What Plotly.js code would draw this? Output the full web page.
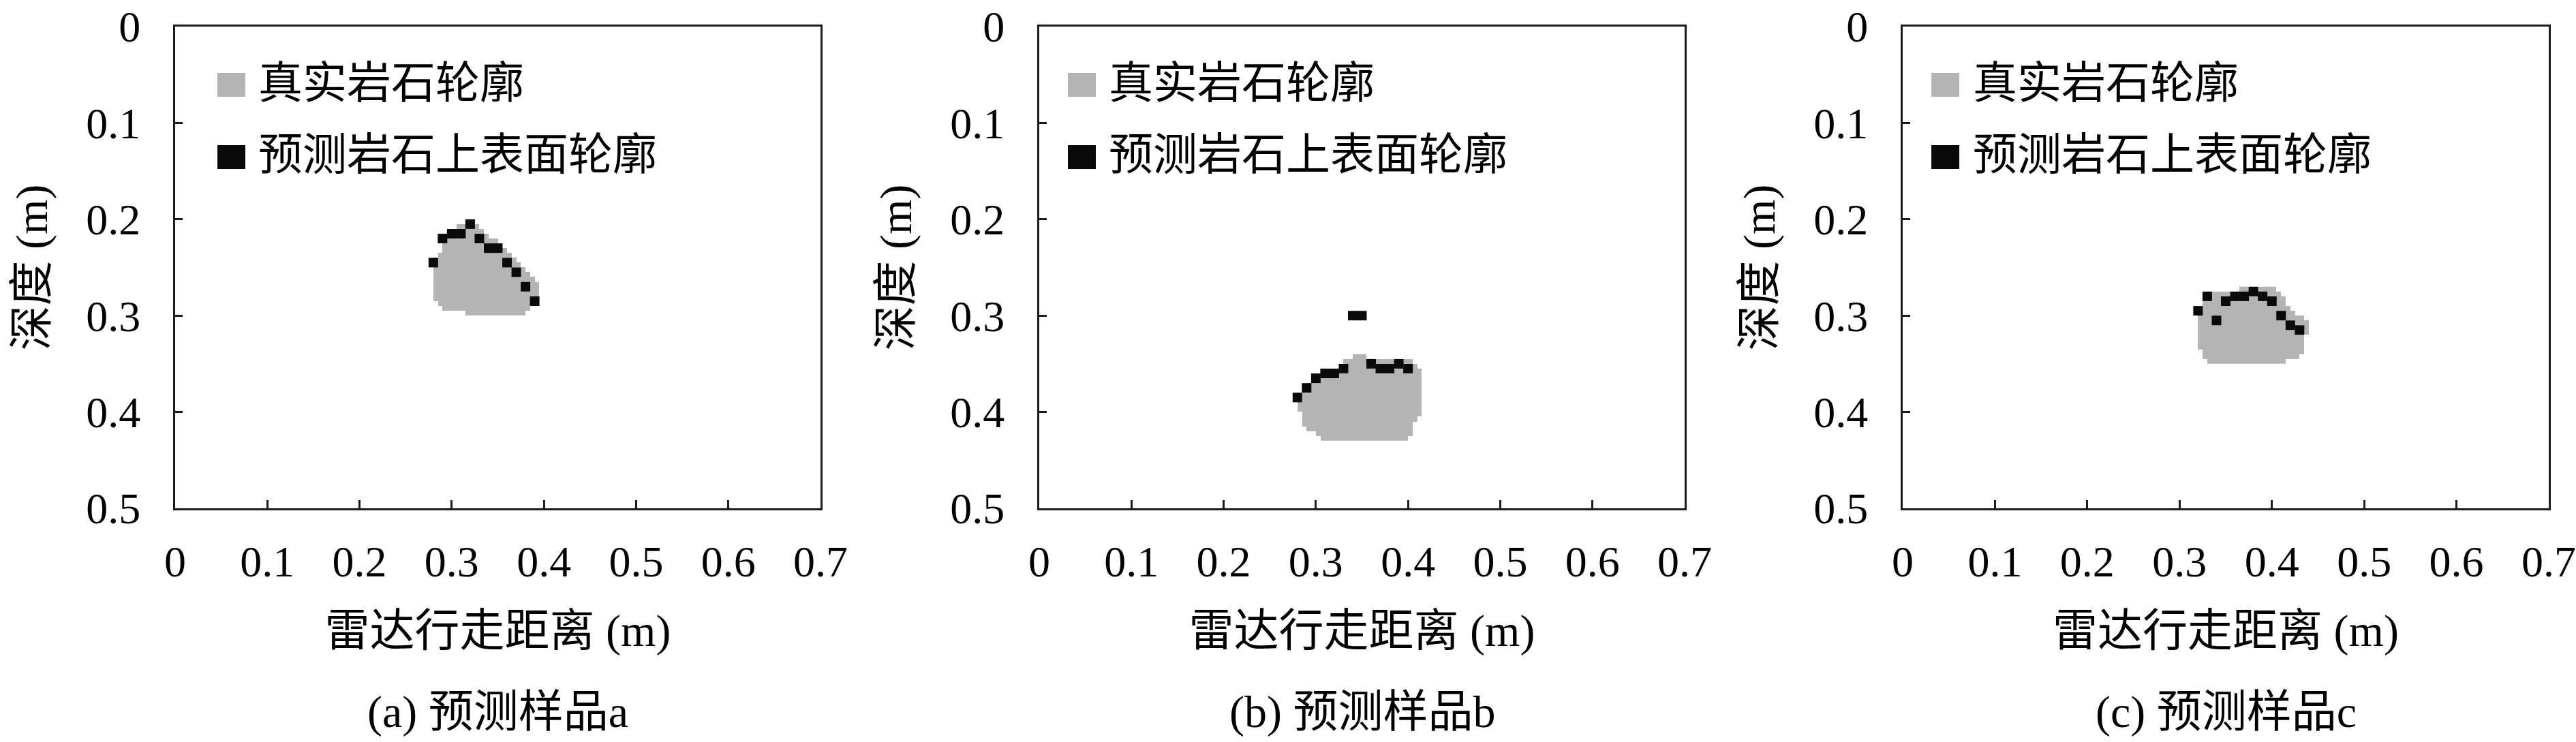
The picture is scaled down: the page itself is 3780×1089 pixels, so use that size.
<!DOCTYPE html>
<html>
<head>
<meta charset="utf-8">
<script src="https://cdn.plot.ly/plotly-3.0.1.min.js"></script>
<style>html,body{margin:0;padding:0;background:#fff}</style>
</head>
<body>
<div id="chart" style="width:3780px;height:1089px"></div>
<script>
// rock images are on a 0.005 m grid, 0.7 m wide
var cell = 0.005;
var nCols = 140;

// sample a - true rock, one entry per grid row: top depth, left and right edge (m)
var rockA_depth = [0.205, 0.210, 0.215, 0.220, 0.225, 0.230, 0.235, 0.240, 0.245, 0.250,
                   0.255, 0.260, 0.265, 0.270, 0.275, 0.280, 0.285, 0.290, 0.295];
var rockA_left  = [0.305, 0.300, 0.290, 0.290, 0.290, 0.290, 0.285, 0.280, 0.280, 0.280,
                   0.280, 0.280, 0.280, 0.280, 0.280, 0.280, 0.285, 0.290, 0.315];
var rockA_right = [0.330, 0.335, 0.340, 0.350, 0.355, 0.360, 0.365, 0.370, 0.375, 0.380,
                   0.385, 0.390, 0.395, 0.395, 0.395, 0.390, 0.385, 0.385, 0.380];
// sample a - predicted upper surface
var predA_x = [0.28, 0.29, 0.30, 0.31, 0.32, 0.33, 0.34, 0.35, 0.36, 0.37, 0.38, 0.39];
var predA_y = [0.245, 0.220, 0.215, 0.215, 0.205, 0.220, 0.230, 0.230, 0.245, 0.255, 0.270, 0.285];

// sample b
var rockB_depth = [0.340, 0.345, 0.350, 0.355, 0.360, 0.365, 0.370, 0.375, 0.380,
                   0.385, 0.390, 0.395, 0.400, 0.405, 0.410, 0.415, 0.420, 0.425];
var rockB_left  = [0.340, 0.330, 0.330, 0.315, 0.305, 0.295, 0.290, 0.290, 0.285,
                   0.285, 0.280, 0.280, 0.285, 0.285, 0.285, 0.290, 0.300, 0.305];
var rockB_right = [0.355, 0.405, 0.410, 0.415, 0.415, 0.415, 0.415, 0.415, 0.415,
                   0.415, 0.415, 0.415, 0.415, 0.410, 0.405, 0.405, 0.405, 0.400];
var predB_x = [0.28, 0.29, 0.30, 0.31, 0.32, 0.33, 0.34, 0.35, 0.36, 0.37, 0.38, 0.39, 0.40];
var predB_y = [0.385, 0.375, 0.365, 0.360, 0.360, 0.355, 0.300, 0.300, 0.350, 0.355, 0.355, 0.350, 0.355];

// sample c
var rockC_depth = [0.270, 0.275, 0.280, 0.285, 0.290, 0.295, 0.300, 0.305,
                   0.310, 0.315, 0.320, 0.325, 0.330, 0.335, 0.340, 0.345];
var rockC_left  = [0.365, 0.335, 0.330, 0.325, 0.325, 0.325, 0.320, 0.320,
                   0.320, 0.320, 0.320, 0.320, 0.320, 0.325, 0.325, 0.330];
var rockC_right = [0.405, 0.410, 0.415, 0.415, 0.420, 0.425, 0.435, 0.440,
                   0.440, 0.440, 0.435, 0.435, 0.435, 0.435, 0.430, 0.415];
var predC_x = [0.32, 0.33, 0.34, 0.35, 0.36, 0.37, 0.38, 0.39, 0.40, 0.41, 0.42, 0.43];
var predC_y = [0.295, 0.280, 0.305, 0.285, 0.280, 0.280, 0.275, 0.280, 0.285, 0.300, 0.310, 0.315];

var xTicks = [0, 0.1, 0.2, 0.3, 0.4, 0.5, 0.6, 0.7];
var xTickText = ['0', '0.1', '0.2', '0.3', '0.4', '0.5', '0.6', '0.7'];
var yTicks = [0, 0.1, 0.2, 0.3, 0.4, 0.5];
var yTickText = ['0', '0.1', '0.2', '0.3', '0.4', '0.5'];

var legendNames = ['真实岩石轮廓', '预测岩石上表面轮廓'];
var xTitle = '雷达行走距离 (m)';
var yTitle = '深度 (m)';
var captions = ['(a) 预测样品a', '(b) 预测样品b', '(c) 预测样品c'];

var rockGrey = '#b4b4b4';
var predBlack = '#0a0a0a';
var frame = '#231815';
var FONT = '"Liberation Serif", "Noto Sans CJK SC", serif';

var xCenters = [];
for (var i = 0; i < nCols; i++) xCenters.push(cell * (i + 0.5));

function rockTrace(depth, left, right, xa, ya) {
  var z = depth.map(function (d, k) {
    return xCenters.map(function (x) {
      return (x > left[k] && x < right[k]) ? 1 : null;
    });
  });
  return {
    type: 'heatmap', x: xCenters, y: depth.map(function (d) { return d + cell / 2; }), z: z,
    zmin: 0, zmax: 1, colorscale: [[0, rockGrey], [1, rockGrey]],
    showscale: false, hoverinfo: 'skip', xaxis: xa, yaxis: ya
  };
}

function predTrace(px, py, xa, ya) {
  return {
    type: 'scatter', mode: 'markers', x: px, y: py, xaxis: xa, yaxis: ya,
    marker: { symbol: 'square', size: 14, color: predBlack, line: { width: 0 } },
    showlegend: false, hoverinfo: 'skip'
  };
}

var data = [
  rockTrace(rockA_depth, rockA_left, rockA_right, 'x', 'y'),
  predTrace(predA_x, predA_y, 'x', 'y'),
  rockTrace(rockB_depth, rockB_left, rockB_right, 'x2', 'y2'),
  predTrace(predB_x, predB_y, 'x2', 'y2'),
  rockTrace(rockC_depth, rockC_left, rockC_right, 'x3', 'y3'),
  predTrace(predC_x, predC_y, 'x3', 'y3')
];

var xDomains = [[257 / 3780, 1204 / 3780], [1525 / 3780, 2472 / 3780], [2792 / 3780, 3740 / 3780]];
var yDomain = [1 - 746 / 1089, 1 - 39 / 1089];
var keyLeft = [62 / 947, 42 / 947, 42 / 947];   // legend key left edge inside each plot
var textLeft = [120 / 947, 100 / 947, 101 / 947];

function xAxis(k) {
  return {
    domain: xDomains[k], range: [0, 0.7], anchor: k ? 'y' + (k + 1) : 'y',
    tickvals: xTicks, ticktext: xTickText, ticks: 'inside', ticklen: 12, tickwidth: 3,
    tickcolor: frame, showline: true, linecolor: frame, linewidth: 3, mirror: true,
    showgrid: false, zeroline: false, ticklabelstandoff: 20,
    tickfont: { family: FONT, size: 64, color: '#000' },
    title: { text: xTitle, font: { family: FONT, size: 66, color: '#000' }, standoff: 44 }
  };
}
function yAxis(k) {
  return {
    domain: yDomain, range: [0.5, 0], anchor: k ? 'x' + (k + 1) : 'x',
    tickvals: yTicks, ticktext: yTickText, ticks: 'inside', ticklen: 11, tickwidth: 3,
    tickcolor: frame, showline: true, linecolor: frame, linewidth: 3, mirror: true,
    showgrid: false, zeroline: false, ticklabelstandoff: 35,
    tickfont: { family: FONT, size: 64, color: '#000' },
    title: { text: yTitle, font: { family: FONT, size: 66, color: '#000' }, standoff: 36 }
  };
}

var shapes = [], annotations = [];
for (var k = 0; k < 3; k++) {
  var xr = (k ? 'x' + (k + 1) : 'x') + ' domain';
  var yr = (k ? 'y' + (k + 1) : 'y') + ' domain';
  shapes.push({ type: 'rect', xref: xr, yref: yr, x0: keyLeft[k], x1: keyLeft[k] + 41 / 947,
    y0: 0.8543, y1: 0.9038, fillcolor: rockGrey, line: { width: 0 } });
  shapes.push({ type: 'rect', xref: xr, yref: yr, x0: keyLeft[k], x1: keyLeft[k] + 41 / 947,
    y0: 0.7044, y1: 0.7539, fillcolor: predBlack, line: { width: 0 } });
  annotations.push({ xref: xr, yref: yr, x: textLeft[k], y: 0.8826, xanchor: 'left', yanchor: 'middle',
    text: legendNames[0], showarrow: false, font: { family: FONT, size: 65, color: '#000' } });
  annotations.push({ xref: xr, yref: yr, x: textLeft[k], y: 0.7341, xanchor: 'left', yanchor: 'middle',
    text: legendNames[1], showarrow: false, font: { family: FONT, size: 65, color: '#000' } });
  annotations.push({ xref: xr, yref: 'paper', x: 0.5, y: 1 - 1045 / 1089, xanchor: 'center', yanchor: 'middle',
    text: captions[k], showarrow: false, font: { family: FONT, size: 66, color: '#000' } });
}

var layout = {
  width: 3780, height: 1089,
  margin: { l: 0, r: 0, t: 0, b: 0 },
  paper_bgcolor: '#fff', plot_bgcolor: '#fff',
  showlegend: false,
  xaxis: xAxis(0), yaxis: yAxis(0),
  xaxis2: xAxis(1), yaxis2: yAxis(1),
  xaxis3: xAxis(2), yaxis3: yAxis(2),
  shapes: shapes, annotations: annotations
};

Plotly.newPlot('chart', data, layout, { staticPlot: true });
</script>
</body>
</html>
